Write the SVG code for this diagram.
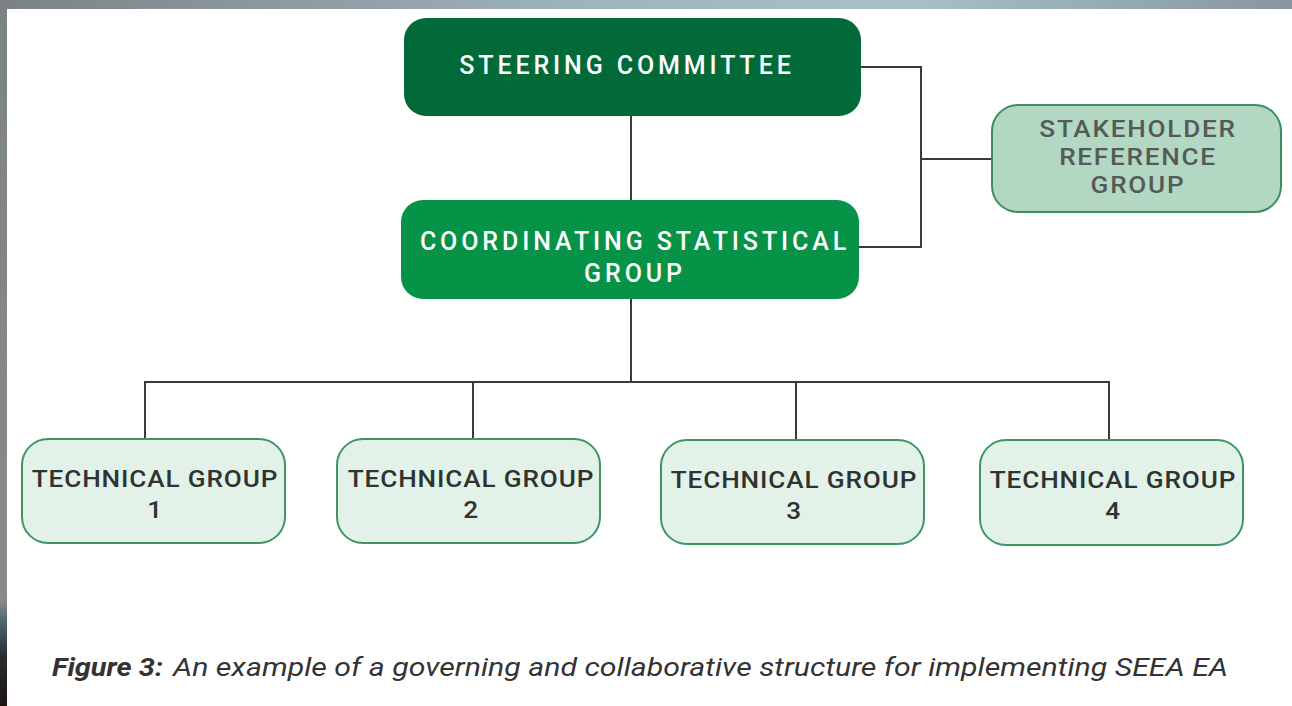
<svg xmlns="http://www.w3.org/2000/svg" width="1292" height="706" viewBox="0 0 1292 706">
  <defs>
    <linearGradient id="topband" x1="0" y1="0" x2="1" y2="0">
      <stop offset="0" stop-color="#7c8283"/>
      <stop offset="0.45" stop-color="#9fb3bd"/>
      <stop offset="0.7" stop-color="#a9bfca"/>
      <stop offset="1" stop-color="#8797a1"/>
    </linearGradient>
    <linearGradient id="leftband" x1="0" y1="0" x2="0" y2="1">
      <stop offset="0" stop-color="#7c8283"/>
      <stop offset="0.85" stop-color="#8a8a8a"/>
      <stop offset="0.88" stop-color="#4e6673"/>
      <stop offset="0.93" stop-color="#2a2a2e"/>
      <stop offset="1" stop-color="#1d1714"/>
    </linearGradient>
  </defs>
  <style>
    .conn { fill: none; stroke: #3a3a3a; stroke-width: 2; }
    .wt { font-family: Roboto, "Liberation Sans", sans-serif; font-weight: 500; font-size: 25px; fill: #ffffff; text-anchor: middle; letter-spacing: 3.9px; }
    .sk { font-family: Roboto, "Liberation Sans", sans-serif; font-weight: 500; font-size: 24px; fill: #555a57; text-anchor: middle; letter-spacing: 1.6px; }
    .tg { font-family: Roboto, "Liberation Sans", sans-serif; font-weight: 500; font-size: 24px; fill: #2f3331; text-anchor: middle; letter-spacing: 0.8px; }
    .tgbox { fill: #e2f2e8; stroke: #3f9663; stroke-width: 2; }
    .cap { font-family: Roboto, "Liberation Sans", sans-serif; font-style: italic; font-size: 26px; fill: #333333; }
  </style>
  <rect x="0" y="0" width="1292" height="706" fill="#ffffff"/>
  <rect x="0" y="0" width="1292" height="9" fill="url(#topband)"/>
  <rect x="0" y="0" width="7" height="706" fill="url(#leftband)"/>

  <g id="connectors">
    <line class="conn" x1="631" y1="116" x2="631" y2="200"/>
    <polyline class="conn" points="861,67 921,67 921,247 859,247"/>
    <line class="conn" x1="921" y1="159" x2="992" y2="159"/>
    <line class="conn" x1="631" y1="299" x2="631" y2="382"/>
    <polyline class="conn" points="145,439 145,382 1109,382 1109,440"/>
    <line class="conn" x1="473" y1="382" x2="473" y2="439"/>
    <line class="conn" x1="796" y1="382" x2="796" y2="440"/>
  </g>

  <g id="steering">
    <rect x="404" y="18" width="457" height="98" rx="22" fill="#026a38"/>
    <text class="wt" x="627" y="74">STEERING COMMITTEE</text>
  </g>

  <g id="coordinating">
    <rect x="401" y="200" width="458" height="99" rx="22" fill="#069247"/>
    <text class="wt" x="635" y="250">COORDINATING STATISTICAL</text>
    <text class="wt" x="635" y="282">GROUP</text>
  </g>

  <g id="stakeholder">
    <rect x="992" y="105" width="289" height="107" rx="26" fill="#b2d7c3" stroke="#3e8d5f" stroke-width="2"/>
    <g transform="translate(1138,0) scale(1.09,1)">
      <text class="sk" x="0" y="137">STAKEHOLDER</text>
      <text class="sk" x="0" y="165">REFERENCE</text>
      <text class="sk" x="0" y="193">GROUP</text>
    </g>
  </g>

  <g id="tg1">
    <rect class="tgbox" x="22" y="439" width="263" height="104" rx="26"/>
    <g transform="translate(155,0) scale(1.09,1)">
      <text class="tg" x="0" y="487">TECHNICAL GROUP</text>
      <text class="tg" x="0" y="518">1</text>
    </g>
  </g>
  <g id="tg2">
    <rect class="tgbox" x="337" y="439" width="263" height="104" rx="26"/>
    <g transform="translate(471,0) scale(1.09,1)">
      <text class="tg" x="0" y="487">TECHNICAL GROUP</text>
      <text class="tg" x="0" y="518">2</text>
    </g>
  </g>
  <g id="tg3">
    <rect class="tgbox" x="661" y="440" width="263" height="104" rx="26"/>
    <g transform="translate(794,0) scale(1.09,1)">
      <text class="tg" x="0" y="488">TECHNICAL GROUP</text>
      <text class="tg" x="0" y="519">3</text>
    </g>
  </g>
  <g id="tg4">
    <rect class="tgbox" x="980" y="440" width="263" height="105" rx="26"/>
    <g transform="translate(1113,0) scale(1.09,1)">
      <text class="tg" x="0" y="488">TECHNICAL GROUP</text>
      <text class="tg" x="0" y="519">4</text>
    </g>
  </g>

  <g id="caption">
    <text class="cap" x="52" y="676" font-weight="700" textLength="111" lengthAdjust="spacingAndGlyphs">Figure 3:</text>
    <text class="cap" x="173" y="676" textLength="1055" lengthAdjust="spacingAndGlyphs">An example of a governing and collaborative structure for implementing SEEA EA</text>
  </g>
</svg>
